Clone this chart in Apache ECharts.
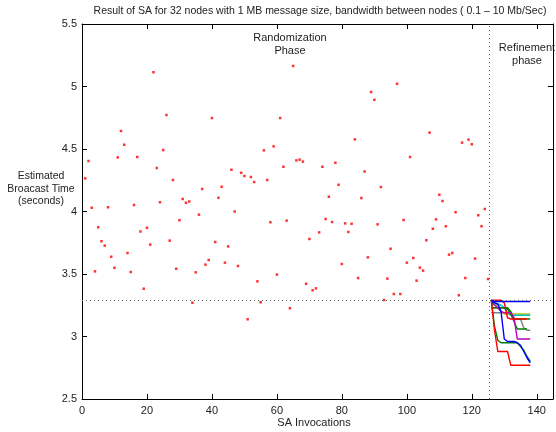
<!DOCTYPE html>
<html>
<head>
<meta charset="utf-8">
<script src="https://cdn.jsdelivr.net/npm/echarts@6.0.0/dist/echarts.min.js"></script>
<style>
  html, body { margin: 0; padding: 0; background: #fff; }
  #chart { width: 556px; height: 432px; }
</style>
</head>
<body>
<div id="chart"></div>
<script>
// randomization phase: one estimate per SA invocation (1..125)
var randValues = [
  4.265, 4.404, 4.03, 3.521, 3.874, 3.762, 3.727, 4.034, 3.638, 3.55,
  4.433, 4.644, 4.534, 3.668, 3.516, 4.052, 4.436, 3.84, 3.382, 3.87,
  3.735, 5.114, 4.348, 4.074, 4.492, 4.772, 3.767, 4.252, 3.542, 3.93,
  4.1, 4.07, 4.08, 3.27, 3.513, 3.975, 4.18, 3.575, 3.612, 4.748,
  3.756, 4.11, 4.198, 3.591, 3.721, 4.334, 4.0, 3.564, 4.31, 4.284,
  3.138, 4.276, 4.236, 3.441, 3.274, 4.489, 4.252, 3.914, 4.521, 3.495,
  4.748, 4.358, 3.927, 3.226, 5.164, 4.409, 4.415, 4.399, 3.422, 3.78,
  3.37, 3.385, 3.833, 4.358, 3.94, 4.118, 3.916, 4.39, 4.214, 3.58,
  3.905, 3.836, 3.902, 4.577, 3.468, 4.108, 4.32, 3.633, 4.956, 4.894,
  3.897, 4.196, 3.292, 3.463, 3.702, 3.34, 5.022, 3.34, 3.932, 3.591,
  4.436, 3.628, 3.447, 3.551, 3.527, 3.77, 4.631, 3.862, 3.937, 4.134,
  4.084, 3.882, 3.655, 3.668, 3.994, 3.33, 4.551, 3.468, 4.575, 4.538,
  3.623, 3.97, 3.882, 4.02, 3.46
];

// refinement phase
var refineX = [126, 127, 128, 129, 130, 131, 132, 133, 134, 135, 136, 137, 138];
var refBlue    = [3.29, 3.28, 3.28, 3.28, 3.28, 3.28, 3.28, 3.28, 3.28, 3.28, 3.28, 3.28, 3.28];
var refRed     = [3.29, 3.05, 2.88, 2.88, 2.88, 2.88, 2.77, 2.77, 2.77, 2.77, 2.77, 2.77, 2.77];
var refGreen   = [3.29, 3.08, 2.97, 2.95, 2.95, 2.95, 2.95, 2.95, 2.95, 2.92, 2.89, 2.84, 2.80];
var refBlue2   = [3.28, 3.27, 3.26, 3.2, 2.98, 2.96, 2.96, 2.96, 2.95, 2.93, 2.88, 2.83, 2.79];
var refMagenta = [3.27, 3.25, 3.23, 3.2, 3.19, 3.19, 3.19, 3.15, 2.98, 2.98, 2.98, 2.98, 2.98];
var refRedTop  = [3.29, 3.29, 3.29, 3.29, 3.27, 3.15, 3.14, 3.14, 3.14, 3.14, 3.14, 3.14];
var refGreenA  = [3.23, 3.23, 3.23, 3.23, 3.23, 3.23, 3.2, 3.14, 3.14, 3.14, 3.14, 3.14, 3.14];
var refGreenB  = [3.23, 3.23, 3.23, 3.23, 3.23, 3.22, 3.18, 3.12, 3.06, 3.06, 3.06, 3.06];
var refGray    = [3.19, 3.19, 3.19, 3.19, 3.19, 3.19, 3.17, 3.14, 3.14, 3.14, 3.07, 3.05, 3.05];
var refYellow  = [3.27, 3.26, 3.24, 3.2, 3.18, 3.18, 3.18, 3.18, 3.18, 3.18, 3.18, 3.18, 3.18];
var refCyan    = [3.27, 3.26, 3.26, 3.25, 3.23, 3.19, 3.17, 3.17, 3.17, 3.17, 3.17, 3.17, 3.17];

var thresholdY = 3.29;
var phaseSplitX = 125.5;

var font = 'Liberation Sans, Arial, Helvetica, sans-serif';

function pairs(xs, ys) {
  var out = [];
  for (var i = 0; i < ys.length; i++) out.push([xs[i], ys[i]]);
  return out;
}

var randData = [];
for (var i = 0; i < randValues.length; i++) randData.push([i + 1, randValues[i]]);

function refLine(vals, color) {
  return {
    type: 'line',
    data: pairs(refineX, vals),
    showSymbol: false,
    symbol: 'none',
    lineStyle: { color: color, width: 1.4 },
    z: 3,
    silent: true
  };
}

// centred text label at x,y (top of text)
function label(x, y, txt, size, lh) {
  return {
    type: 'text', x: x, y: y, silent: true,
    style: {
      text: txt, font: size + 'px ' + font, fill: '#222',
      textAlign: 'center', textVerticalAlign: 'top', lineHeight: lh || size + 2
    }
  };
}

var chart = echarts.init(document.getElementById('chart'));

var axisBase = {
  type: 'value',
  axisLine: { show: true, onZero: false, lineStyle: { color: '#000', width: 1 } },
  axisTick: { show: true, inside: true, length: 5, lineStyle: { color: '#000' } },
  splitLine: { show: false }
};

chart.setOption({
  animation: false,
  backgroundColor: '#fff',
  grid: { left: 82, top: 24, width: 477, height: 375, containLabel: false },
  xAxis: [
    Object.assign({}, axisBase, {
      position: 'bottom', min: 0, max: 145, interval: 20,
      axisLabel: {
        color: '#222', fontSize: 11, fontFamily: font, margin: 6,
        formatter: function (v) { return v % 20 === 0 ? String(v) : ''; }
      }
    }),
    Object.assign({}, axisBase, {
      position: 'top', min: 0, max: 145, interval: 20,
      axisLabel: { show: false }
    })
  ],
  yAxis: [
    Object.assign({}, axisBase, {
      position: 'left', min: 2.5, max: 5.5, interval: 0.5,
      axisLabel: { color: '#222', fontSize: 11, fontFamily: font, margin: 5 }
    }),
    Object.assign({}, axisBase, {
      position: 'right', min: 2.5, max: 5.5, interval: 0.5,
      axisLabel: { show: false }
    })
  ],
  series: [
    {
      type: 'scatter',
      data: randData,
      symbol: 'rect',
      symbolSize: 2.5,
      itemStyle: { color: '#ff0000' },
      z: 2,
      silent: true,
      markLine: {
        silent: true,
        symbol: ['none', 'none'],
        label: { show: false },
        lineStyle: { type: [1, 3], color: '#666', width: 1 },
        data: [{ yAxis: thresholdY }, { xAxis: phaseSplitX }]
      }
    },
    refLine(refGray, '#808080'),
    refLine(refYellow, '#bfbf00'),
    refLine(refCyan, '#00bfbf'),
    refLine(refGreenA, '#008000'),
    refLine(refGreenB, '#008000'),
    refLine(refMagenta, '#bf00bf'),
    refLine(refRedTop, '#ff0000'),
    refLine(refGreen, '#008000'),
    refLine(refBlue2, '#0000ff'),
    refLine(refRed, '#ff0000'),
    refLine(refBlue, '#0000ff')
  ],
  graphic: [
    label(320, 5, 'Result of SA for 32 nodes with 1 MB message size, bandwidth between nodes ( 0.1 \u2013 10 Mb/Sec)', 10.5),
    label(290, 31, 'Randomization\nPhase', 11, 13),
    label(527, 41, 'Refinement\nphase', 11, 13),
    label(41, 170, 'Estimated\nBroacast Time\n(seconds)', 10.5, 12.5),
    label(314, 416, 'SA Invocations', 11)
  ]
});
</script>
</body>
</html>
